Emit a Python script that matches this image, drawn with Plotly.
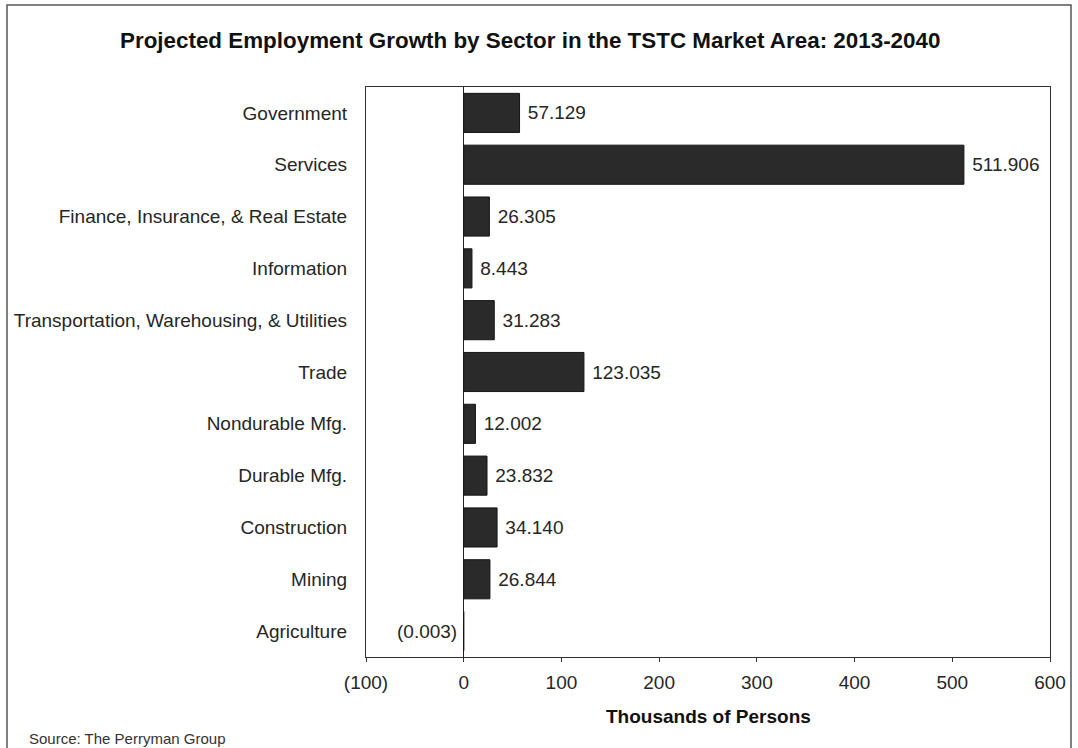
import plotly.graph_objects as go

categories = ["Government", "Services", "Finance, Insurance, & Real Estate", "Information",
              "Transportation, Warehousing, & Utilities", "Trade", "Nondurable Mfg.",
              "Durable Mfg.", "Construction", "Mining", "Agriculture"]
values = [57.129, 511.906, 26.305, 8.443, 31.283, 123.035, 12.002, 23.832, 34.140, 26.844, -0.003]
tick_vals = [-100, 0, 100, 200, 300, 400, 500, 600]
tick_text = ["(100)", "0", "100", "200", "300", "400", "500", "600"]

def fmt(v):
    return f"({abs(v):.3f})" if v < 0 else f"{v:.3f}"

FONT = "Liberation Sans, Arial, sans-serif"
VAL_FONT = dict(family=FONT, size=19, color="#262626")

W, H = 1078, 748
L, R, T, B = 366, 1050, 87, 657

bar_text = ["\u00a0" + fmt(v) if v >= 0 else "" for v in values]

fig = go.Figure(go.Bar(
    y=categories, x=values, orientation="h",
    marker=dict(color="#2a2a2a", line=dict(color="#151515", width=1)),
    text=bar_text, textposition="outside", cliponaxis=False,
    textfont=VAL_FONT,
))

def px_x(p):
    return (p - L) / (R - L)

def px_y(p):
    return (B - p) / (B - T)

annotations = [
    dict(text=fmt(v), x=v, y=c, xref="x", yref="y", xanchor="right", yanchor="middle",
         xshift=-5, showarrow=False, font=VAL_FONT)
    for c, v in zip(categories, values) if v < 0
]
annotations += [
    dict(text="<b>Projected Employment Growth by Sector in the TSTC Market Area: 2013-2040</b>",
         xref="paper", yref="paper", x=px_x(530), y=px_y(41), xanchor="center", yanchor="middle",
         showarrow=False, font=dict(family=FONT, size=22.4, color="#111111")),
    dict(text="<b>Thousands of Persons</b>",
         xref="paper", yref="paper", x=px_x(708), y=px_y(716), xanchor="center", yanchor="middle",
         showarrow=False, font=dict(family=FONT, size=19, color="#111111")),
    dict(text="Source: The Perryman Group",
         xref="paper", yref="paper", x=px_x(27), y=px_y(738), xanchor="left", yanchor="middle",
         showarrow=False, font=dict(family=FONT, size=15, color="#333333")),
]

fig.update_layout(
    width=W, height=H,
    margin=dict(l=L, r=W - R, t=T, b=H - B),
    paper_bgcolor="white", plot_bgcolor="white",
    bargap=0.245, showlegend=False,
    font=dict(family=FONT, size=19, color="#262626"),
    xaxis=dict(range=[-100, 600], tickvals=tick_vals, ticktext=tick_text,
               showgrid=False, zeroline=True, zerolinecolor="#222222", zerolinewidth=1,
               showline=True, linecolor="#333333", linewidth=1.2, mirror=True,
               ticks="outside", ticklen=4, tickcolor="#333333", ticklabelstandoff=4,
               tickfont=dict(family=FONT, size=19, color="#262626")),
    yaxis=dict(categoryorder="array", categoryarray=categories[::-1],
               showgrid=False, showline=True, linecolor="#333333", linewidth=1.2, mirror=True,
               ticks="", ticklabelstandoff=14,
               tickfont=dict(family=FONT, size=19, color="#262626")),
    annotations=annotations,
    shapes=[
        dict(type="rect", xref="paper", yref="paper",
             x0=px_x(7), x1=px_x(1071), y0=px_y(770), y1=px_y(5),
             line=dict(color="#555555", width=1.5), fillcolor="rgba(0,0,0,0)", layer="below"),
    ],
)

fig.write_html("out.html", config={"displayModeBar": False},
               post_script="document.body.style.margin='0px';")
